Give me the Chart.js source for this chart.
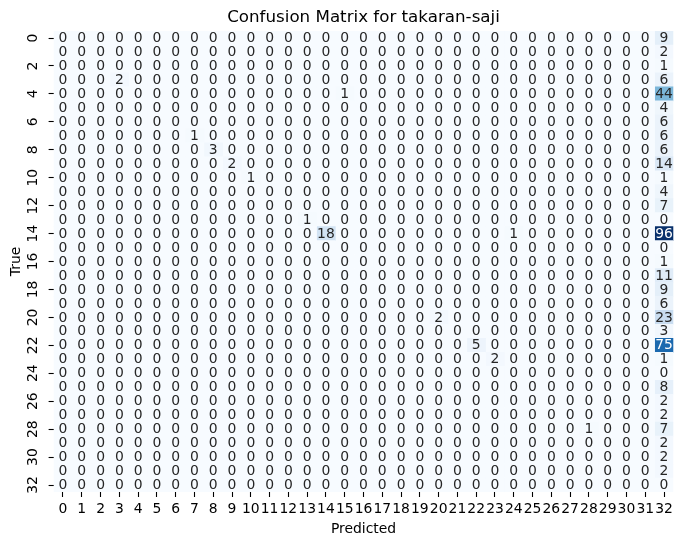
<!DOCTYPE html>
<html><head><meta charset="utf-8">
<script src="https://cdn.jsdelivr.net/npm/chart.js@4"></script>
<style>html,body{margin:0;padding:0;background:#fff;}</style>
</head><body>
<canvas id="c" width="683" height="547"></canvas>
<script>
const chartTitle = 'Confusion Matrix for takaran-saji';
const trueLabels = ['0','1','2','3','4','5','6','7','8','9','10','11','12','13','14','15','16','17','18','19','20','21','22','23','24','25','26','27','28','29','30','31','32'];
const predLabels = ['0','1','2','3','4','5','6','7','8','9','10','11','12','13','14','15','16','17','18','19','20','21','22','23','24','25','26','27','28','29','30','31','32'];
// counts[trueRow][predictedCol]
const counts = [
  [0,0,0,0,0,0,0,0,0,0, 0,0,0,0,0,0,0,0,0,0, 0,0,0,0,0,0,0,0,0,0, 0,0,9],
  [0,0,0,0,0,0,0,0,0,0, 0,0,0,0,0,0,0,0,0,0, 0,0,0,0,0,0,0,0,0,0, 0,0,2],
  [0,0,0,0,0,0,0,0,0,0, 0,0,0,0,0,0,0,0,0,0, 0,0,0,0,0,0,0,0,0,0, 0,0,1],
  [0,0,0,2,0,0,0,0,0,0, 0,0,0,0,0,0,0,0,0,0, 0,0,0,0,0,0,0,0,0,0, 0,0,6],
  [0,0,0,0,0,0,0,0,0,0, 0,0,0,0,0,1,0,0,0,0, 0,0,0,0,0,0,0,0,0,0, 0,0,44],
  [0,0,0,0,0,0,0,0,0,0, 0,0,0,0,0,0,0,0,0,0, 0,0,0,0,0,0,0,0,0,0, 0,0,4],
  [0,0,0,0,0,0,0,0,0,0, 0,0,0,0,0,0,0,0,0,0, 0,0,0,0,0,0,0,0,0,0, 0,0,6],
  [0,0,0,0,0,0,0,1,0,0, 0,0,0,0,0,0,0,0,0,0, 0,0,0,0,0,0,0,0,0,0, 0,0,6],
  [0,0,0,0,0,0,0,0,3,0, 0,0,0,0,0,0,0,0,0,0, 0,0,0,0,0,0,0,0,0,0, 0,0,6],
  [0,0,0,0,0,0,0,0,0,2, 0,0,0,0,0,0,0,0,0,0, 0,0,0,0,0,0,0,0,0,0, 0,0,14],
  [0,0,0,0,0,0,0,0,0,0, 1,0,0,0,0,0,0,0,0,0, 0,0,0,0,0,0,0,0,0,0, 0,0,1],
  [0,0,0,0,0,0,0,0,0,0, 0,0,0,0,0,0,0,0,0,0, 0,0,0,0,0,0,0,0,0,0, 0,0,4],
  [0,0,0,0,0,0,0,0,0,0, 0,0,0,0,0,0,0,0,0,0, 0,0,0,0,0,0,0,0,0,0, 0,0,7],
  [0,0,0,0,0,0,0,0,0,0, 0,0,0,1,0,0,0,0,0,0, 0,0,0,0,0,0,0,0,0,0, 0,0,0],
  [0,0,0,0,0,0,0,0,0,0, 0,0,0,0,18,0,0,0,0,0, 0,0,0,0,1,0,0,0,0,0, 0,0,96],
  [0,0,0,0,0,0,0,0,0,0, 0,0,0,0,0,0,0,0,0,0, 0,0,0,0,0,0,0,0,0,0, 0,0,0],
  [0,0,0,0,0,0,0,0,0,0, 0,0,0,0,0,0,0,0,0,0, 0,0,0,0,0,0,0,0,0,0, 0,0,1],
  [0,0,0,0,0,0,0,0,0,0, 0,0,0,0,0,0,0,0,0,0, 0,0,0,0,0,0,0,0,0,0, 0,0,11],
  [0,0,0,0,0,0,0,0,0,0, 0,0,0,0,0,0,0,0,0,0, 0,0,0,0,0,0,0,0,0,0, 0,0,9],
  [0,0,0,0,0,0,0,0,0,0, 0,0,0,0,0,0,0,0,0,0, 0,0,0,0,0,0,0,0,0,0, 0,0,6],
  [0,0,0,0,0,0,0,0,0,0, 0,0,0,0,0,0,0,0,0,0, 2,0,0,0,0,0,0,0,0,0, 0,0,23],
  [0,0,0,0,0,0,0,0,0,0, 0,0,0,0,0,0,0,0,0,0, 0,0,0,0,0,0,0,0,0,0, 0,0,3],
  [0,0,0,0,0,0,0,0,0,0, 0,0,0,0,0,0,0,0,0,0, 0,0,5,0,0,0,0,0,0,0, 0,0,75],
  [0,0,0,0,0,0,0,0,0,0, 0,0,0,0,0,0,0,0,0,0, 0,0,0,2,0,0,0,0,0,0, 0,0,1],
  [0,0,0,0,0,0,0,0,0,0, 0,0,0,0,0,0,0,0,0,0, 0,0,0,0,0,0,0,0,0,0, 0,0,0],
  [0,0,0,0,0,0,0,0,0,0, 0,0,0,0,0,0,0,0,0,0, 0,0,0,0,0,0,0,0,0,0, 0,0,8],
  [0,0,0,0,0,0,0,0,0,0, 0,0,0,0,0,0,0,0,0,0, 0,0,0,0,0,0,0,0,0,0, 0,0,2],
  [0,0,0,0,0,0,0,0,0,0, 0,0,0,0,0,0,0,0,0,0, 0,0,0,0,0,0,0,0,0,0, 0,0,2],
  [0,0,0,0,0,0,0,0,0,0, 0,0,0,0,0,0,0,0,0,0, 0,0,0,0,0,0,0,0,1,0, 0,0,7],
  [0,0,0,0,0,0,0,0,0,0, 0,0,0,0,0,0,0,0,0,0, 0,0,0,0,0,0,0,0,0,0, 0,0,2],
  [0,0,0,0,0,0,0,0,0,0, 0,0,0,0,0,0,0,0,0,0, 0,0,0,0,0,0,0,0,0,0, 0,0,2],
  [0,0,0,0,0,0,0,0,0,0, 0,0,0,0,0,0,0,0,0,0, 0,0,0,0,0,0,0,0,0,0, 0,0,2],
  [0,0,0,0,0,0,0,0,0,0, 0,0,0,0,0,0,0,0,0,0, 0,0,0,0,0,0,0,0,0,0, 0,0,0]
];

// Blues colormap anchors (matplotlib)
const bluesStops = [[247,251,255],[222,235,247],[198,219,239],[158,202,225],[107,174,214],[66,146,198],[33,113,181],[8,81,156],[8,48,107]];
const vmax = Math.max(...counts.map(r => Math.max(...r)));
function bluesRGB(t) {
  t = Math.min(1, Math.max(0, t));
  const p = t * (bluesStops.length - 1);
  const k = Math.min(bluesStops.length - 2, Math.floor(p));
  const f = p - k;
  return bluesStops[k].map((c, i) => Math.round(c + (bluesStops[k + 1][i] - c) * f));
}
function cellColor(v) { const c = bluesRGB(v / vmax); return `rgb(${c[0]},${c[1]},${c[2]})`; }
function textColor(v) {
  const lin = bluesRGB(v / vmax).map(c => { c /= 255; return c <= 0.03928 ? c / 12.92 : Math.pow((c + 0.055) / 1.055, 2.4); });
  const lum = 0.2126 * lin[0] + 0.7152 * lin[1] + 0.0722 * lin[2];
  return lum > 0.408 ? '#262626' : '#ffffff';
}

const FONT = '"DejaVu Sans", sans-serif';
const cellSpan = 1;

const datasets = predLabels.map((p, j) => ({
  label: 'Predicted ' + p,
  data: trueLabels.map(() => cellSpan),
  backgroundColor: trueLabels.map((t, i) => cellColor(counts[i][j])),
  borderWidth: 0,
  barPercentage: 1,
  categoryPercentage: 1,
  stack: 'row'
}));

const annotPlugin = {
  id: 'annot',
  afterDatasetsDraw(chart) {
    const ctx = chart.ctx;
    ctx.save();
    ctx.font = '13.9px ' + FONT;
    ctx.textAlign = 'center';
    ctx.textBaseline = 'middle';
    chart.data.datasets.forEach((ds, j) => {
      chart.getDatasetMeta(j).data.forEach((bar, i) => {
        const v = counts[i][j];
        const pt = bar.getCenterPoint();
        ctx.fillStyle = textColor(v);
        ctx.fillText(String(v), pt.x, pt.y + 0.5);
      });
    });
    ctx.restore();
  }
};

new Chart(document.getElementById('c'), {
  type: 'bar',
  data: { labels: trueLabels, datasets },
  plugins: [annotPlugin],
  options: {
    indexAxis: 'y',
    responsive: false,
    animation: false,
    devicePixelRatio: 1,
    layout: { padding: { left: 0, right: 9.6, top: 0, bottom: 0 } },
    plugins: {
      legend: { display: false },
      tooltip: { enabled: false },
      title: {
        display: true, text: chartTitle, fullSize: false, color: '#000',
        font: { family: FONT, size: 16.7, weight: 'normal', lineHeight: 1.2 },
        padding: { top: 7.5, bottom: 3.5 }
      }
    },
    scales: {
      x: { type: 'linear', stacked: true, min: 0, max: 33, display: false },
      xc: {
        type: 'category', labels: predLabels, position: 'bottom', offset: true,
        grid: { display: true, drawOnChartArea: false, drawTicks: true, tickLength: 5, tickColor: '#000', tickWidth: 1.1, offset: false },
        border: { display: false },
        ticks: { autoSkip: false, maxRotation: 0, minRotation: 0, color: '#000', padding: 4, font: { family: FONT, size: 13.9 } },
        title: { display: true, text: 'Predicted', color: '#000', font: { family: FONT, size: 13.9 }, padding: { top: 0, bottom: 9.2 } },
        afterFit(s) { s.height = 55; }
      },
      y: {
        type: 'category', labels: trueLabels, stacked: true, offset: true,
        grid: { display: true, drawOnChartArea: false, drawTicks: true, tickLength: 5, tickWidth: 1.1, offset: false,
          tickColor: ctx => (ctx.index % 2 === 0 ? '#000' : 'rgba(0,0,0,0)') },
        border: { display: false },
        ticks: { autoSkip: false, minRotation: 90, maxRotation: 90, crossAlign: 'center', padding: 6, color: '#000',
          font: { family: FONT, size: 13.9 },
          callback: (v, i) => (i % 2 === 0 ? trueLabels[i] : '') },
        title: { display: true, text: 'True', color: '#000', font: { family: FONT, size: 13.9 }, padding: { top: 7.7, bottom: 0 } },
        afterFit(s) { s.width = 53.6; }
      }
    }
  }
});
</script>
</body></html>
